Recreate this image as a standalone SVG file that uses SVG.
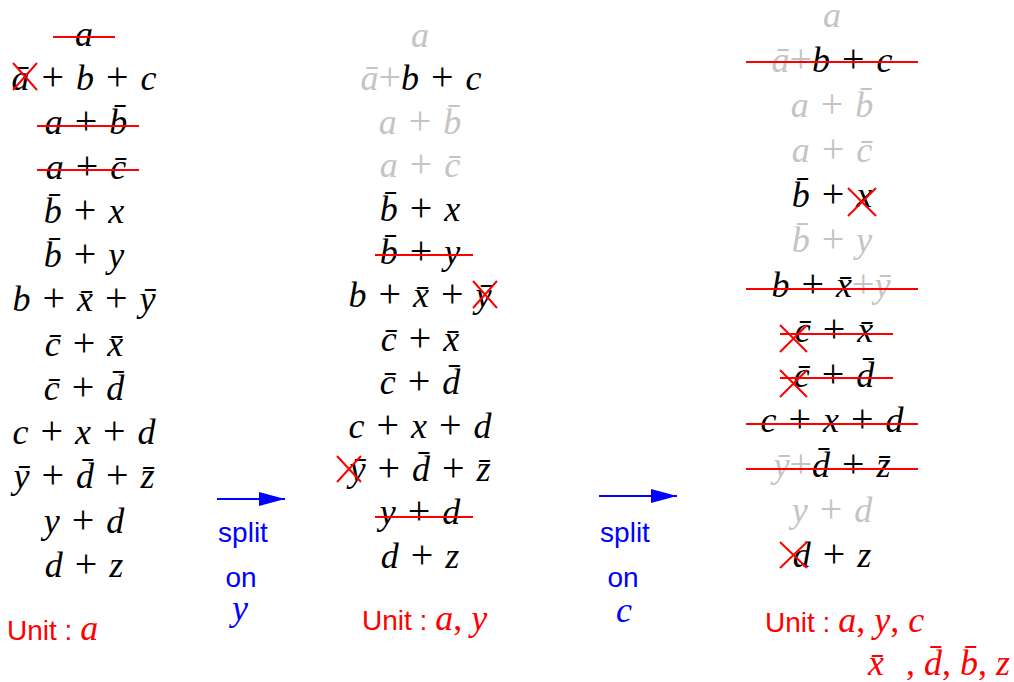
<svg xmlns="http://www.w3.org/2000/svg" width="1014" height="682" viewBox="0 0 1014 682">
<defs>
<style>
.m{font-family:"Liberation Serif",serif;font-style:italic;font-size:36px;text-anchor:middle;word-spacing:3px;fill:#000}
.o{font-style:normal;font-size:40px}
.g{fill:#c4c4c4}
.r{fill:#ff0000}
.s{stroke:#ff0000;stroke-width:2;fill:none}
.u{font-family:"Liberation Sans",sans-serif;font-size:28px;fill:#ff0000}
.mi{font-family:"Liberation Serif",serif;font-style:italic;font-size:36px}
.c{font-style:normal}
.bl{font-family:"Liberation Sans",sans-serif;font-size:28px;fill:#0000ff;text-anchor:middle}
.arr{stroke:#0000ff;stroke-width:2;fill:none}
</style>
<marker id="ah" markerUnits="userSpaceOnUse" markerWidth="26" markerHeight="14" refX="26" refY="7" orient="auto">
<path d="M0,0 L26,7 L0,14 z" fill="#0000ff"/>
</marker>
</defs>
<rect width="1014" height="682" fill="#ffffff"/>

<!-- Left column -->
<g id="left">
<g id="L1"><text class="m" x="84" y="46">a</text><line class="s" x1="53" y1="37" x2="115" y2="37"/></g>
<g id="L2"><text class="m" x="84" y="90">ā <tspan class="o">+</tspan> b <tspan class="o">+</tspan> c</text><path class="s" d="M13,63 L37,90 M37,63 L13,90"/></g>
<g id="L3"><text class="m" x="86" y="134">a <tspan class="o">+</tspan> b̄</text><line class="s" x1="37" y1="126" x2="139" y2="126"/></g>
<g id="L4"><text class="m" x="86" y="179">a <tspan class="o">+</tspan> c̄</text><line class="s" x1="37" y1="170" x2="139" y2="170"/></g>
<g id="L5"><text class="m" x="84" y="223">b̄ <tspan class="o">+</tspan> x</text></g>
<g id="L6"><text class="m" x="84" y="267">b̄ <tspan class="o">+</tspan> y</text></g>
<g id="L7"><text class="m" x="84" y="311">b <tspan class="o">+</tspan> x̄ <tspan class="o">+</tspan> ȳ</text></g>
<g id="L8"><text class="m" x="84" y="356">c̄ <tspan class="o">+</tspan> x̄</text></g>
<g id="L9"><text class="m" x="84" y="400">c̄ <tspan class="o">+</tspan> d̄</text></g>
<g id="L10"><text class="m" x="84" y="444">c <tspan class="o">+</tspan> x <tspan class="o">+</tspan> d</text></g>
<g id="L11"><text class="m" x="84" y="488">ȳ <tspan class="o">+</tspan> d̄ <tspan class="o">+</tspan> z̄</text></g>
<g id="L12"><text class="m" x="84" y="533">y <tspan class="o">+</tspan> d</text></g>
<g id="L13"><text class="m" x="84" y="577">d <tspan class="o">+</tspan> z</text></g>
<g id="Lunit"><text class="u" x="7" y="640">Unit : <tspan class="mi">a</tspan></text></g>
</g>

<!-- Middle column -->
<g id="middle">
<g id="M1"><text class="m g" x="420" y="47">a</text></g>
<g id="M2"><text class="m" x="421" y="90"><tspan class="g">ā<tspan class="o">+</tspan></tspan>b <tspan class="o">+</tspan> c</text></g>
<g id="M3"><text class="m g" x="420" y="134">a <tspan class="o">+</tspan> b̄</text></g>
<g id="M4"><text class="m g" x="420" y="177">a <tspan class="o">+</tspan> c̄</text></g>
<g id="M5"><text class="m" x="420" y="221">b̄ <tspan class="o">+</tspan> x</text></g>
<g id="M6"><text class="m" x="420" y="264">b̄ <tspan class="o">+</tspan> y</text><line class="s" x1="375" y1="255" x2="473" y2="255"/></g>
<g id="M7"><text class="m" x="420" y="307">b <tspan class="o">+</tspan> x̄ <tspan class="o">+</tspan> ȳ</text><path class="s" d="M473,281 L497,308 M497,281 L473,308"/></g>
<g id="M8"><text class="m" x="420" y="351">c̄ <tspan class="o">+</tspan> x̄</text></g>
<g id="M9"><text class="m" x="420" y="394">c̄ <tspan class="o">+</tspan> d̄</text></g>
<g id="M10"><text class="m" x="420" y="438">c <tspan class="o">+</tspan> x <tspan class="o">+</tspan> d</text></g>
<g id="M11"><text class="m" x="420" y="481">ȳ <tspan class="o">+</tspan> d̄ <tspan class="o">+</tspan> z̄</text><path class="s" d="M337,456 L361,482 M361,456 L337,482"/></g>
<g id="M12"><text class="m" x="420" y="524">y <tspan class="o">+</tspan> d</text><line class="s" x1="375" y1="517" x2="473" y2="517"/></g>
<g id="M13"><text class="m" x="420" y="568">d <tspan class="o">+</tspan> z</text></g>
<g id="Munit"><text class="u" x="362" y="630">Unit : <tspan class="mi">a<tspan class="c">,</tspan> y</tspan></text></g>
</g>

<!-- Right column -->
<g id="right">
<g id="R1"><text class="m g" x="832" y="27">a</text></g>
<g id="R2"><text class="m" x="832" y="72"><tspan class="g">ā<tspan class="o">+</tspan></tspan>b <tspan class="o">+</tspan> c</text><line class="s" x1="746" y1="62" x2="918" y2="62"/></g>
<g id="R3"><text class="m g" x="832" y="117">a <tspan class="o">+</tspan> b̄</text></g>
<g id="R4"><text class="m g" x="832" y="162">a <tspan class="o">+</tspan> c̄</text></g>
<g id="R5"><text class="m" x="832" y="207">b̄ <tspan class="o">+</tspan> x</text><path class="s" d="M848,188 L876,216 M876,188 L848,216"/></g>
<g id="R6"><text class="m g" x="832" y="252">b̄ <tspan class="o">+</tspan> y</text></g>
<g id="R7"><text class="m" x="831" y="297">b <tspan class="o">+</tspan> x̄<tspan class="g"><tspan class="o">+</tspan>ȳ</tspan></text><line class="s" x1="746" y1="289" x2="918" y2="289"/></g>
<g id="R8"><text class="m" x="834" y="342">c̄ <tspan class="o">+</tspan> x̄</text><line class="s" x1="780" y1="334" x2="893" y2="334"/><path class="s" d="M780,325 L807,352 M807,325 L780,352"/></g>
<g id="R9"><text class="m" x="834" y="387">c̄ <tspan class="o">+</tspan> d̄</text><line class="s" x1="780" y1="378" x2="893" y2="378"/><path class="s" d="M780,370 L807,397 M807,370 L780,397"/></g>
<g id="R10"><text class="m" x="832" y="432">c <tspan class="o">+</tspan> x <tspan class="o">+</tspan> d</text><line class="s" x1="746" y1="424" x2="918" y2="424"/></g>
<g id="R11"><text class="m" x="832" y="477"><tspan class="g">ȳ<tspan class="o">+</tspan></tspan>d̄ <tspan class="o">+</tspan> z̄</text><line class="s" x1="746" y1="469" x2="918" y2="469"/></g>
<g id="R12"><text class="m g" x="832" y="522">y <tspan class="o">+</tspan> d</text></g>
<g id="R13"><text class="m" x="832" y="567">d <tspan class="o">+</tspan> z</text><path class="s" d="M780,542 L807,568 M807,542 L780,568"/></g>
<g id="Runit"><text class="u" x="765" y="632">Unit : <tspan class="mi">a<tspan class="c">,</tspan> y<tspan class="c">,</tspan> c</tspan></text></g>
<g id="Rextra"><text class="mi r" x="868" y="675">x̄<tspan class="c" x="906">,</tspan> d̄<tspan class="c">,</tspan> b̄<tspan class="c">,</tspan> z</text></g>
</g>

<!-- Connectors -->
<g id="connectors">
<line class="arr" x1="217" y1="499" x2="285" y2="499" marker-end="url(#ah)"/>
<line class="arr" x1="599" y1="496" x2="677" y2="496" marker-end="url(#ah)"/>
</g>

<g id="label1">
<text class="bl" x="243" y="542">split</text>
<text class="bl" x="241" y="587">on</text>
<text class="mi" x="240" y="620" fill="#0000ff" text-anchor="middle">y</text>
</g>
<g id="label2">
<text class="bl" x="625" y="542">split</text>
<text class="bl" x="623" y="587">on</text>
<text class="mi" x="624" y="622" fill="#0000ff" text-anchor="middle">c</text>
</g>
</svg>
